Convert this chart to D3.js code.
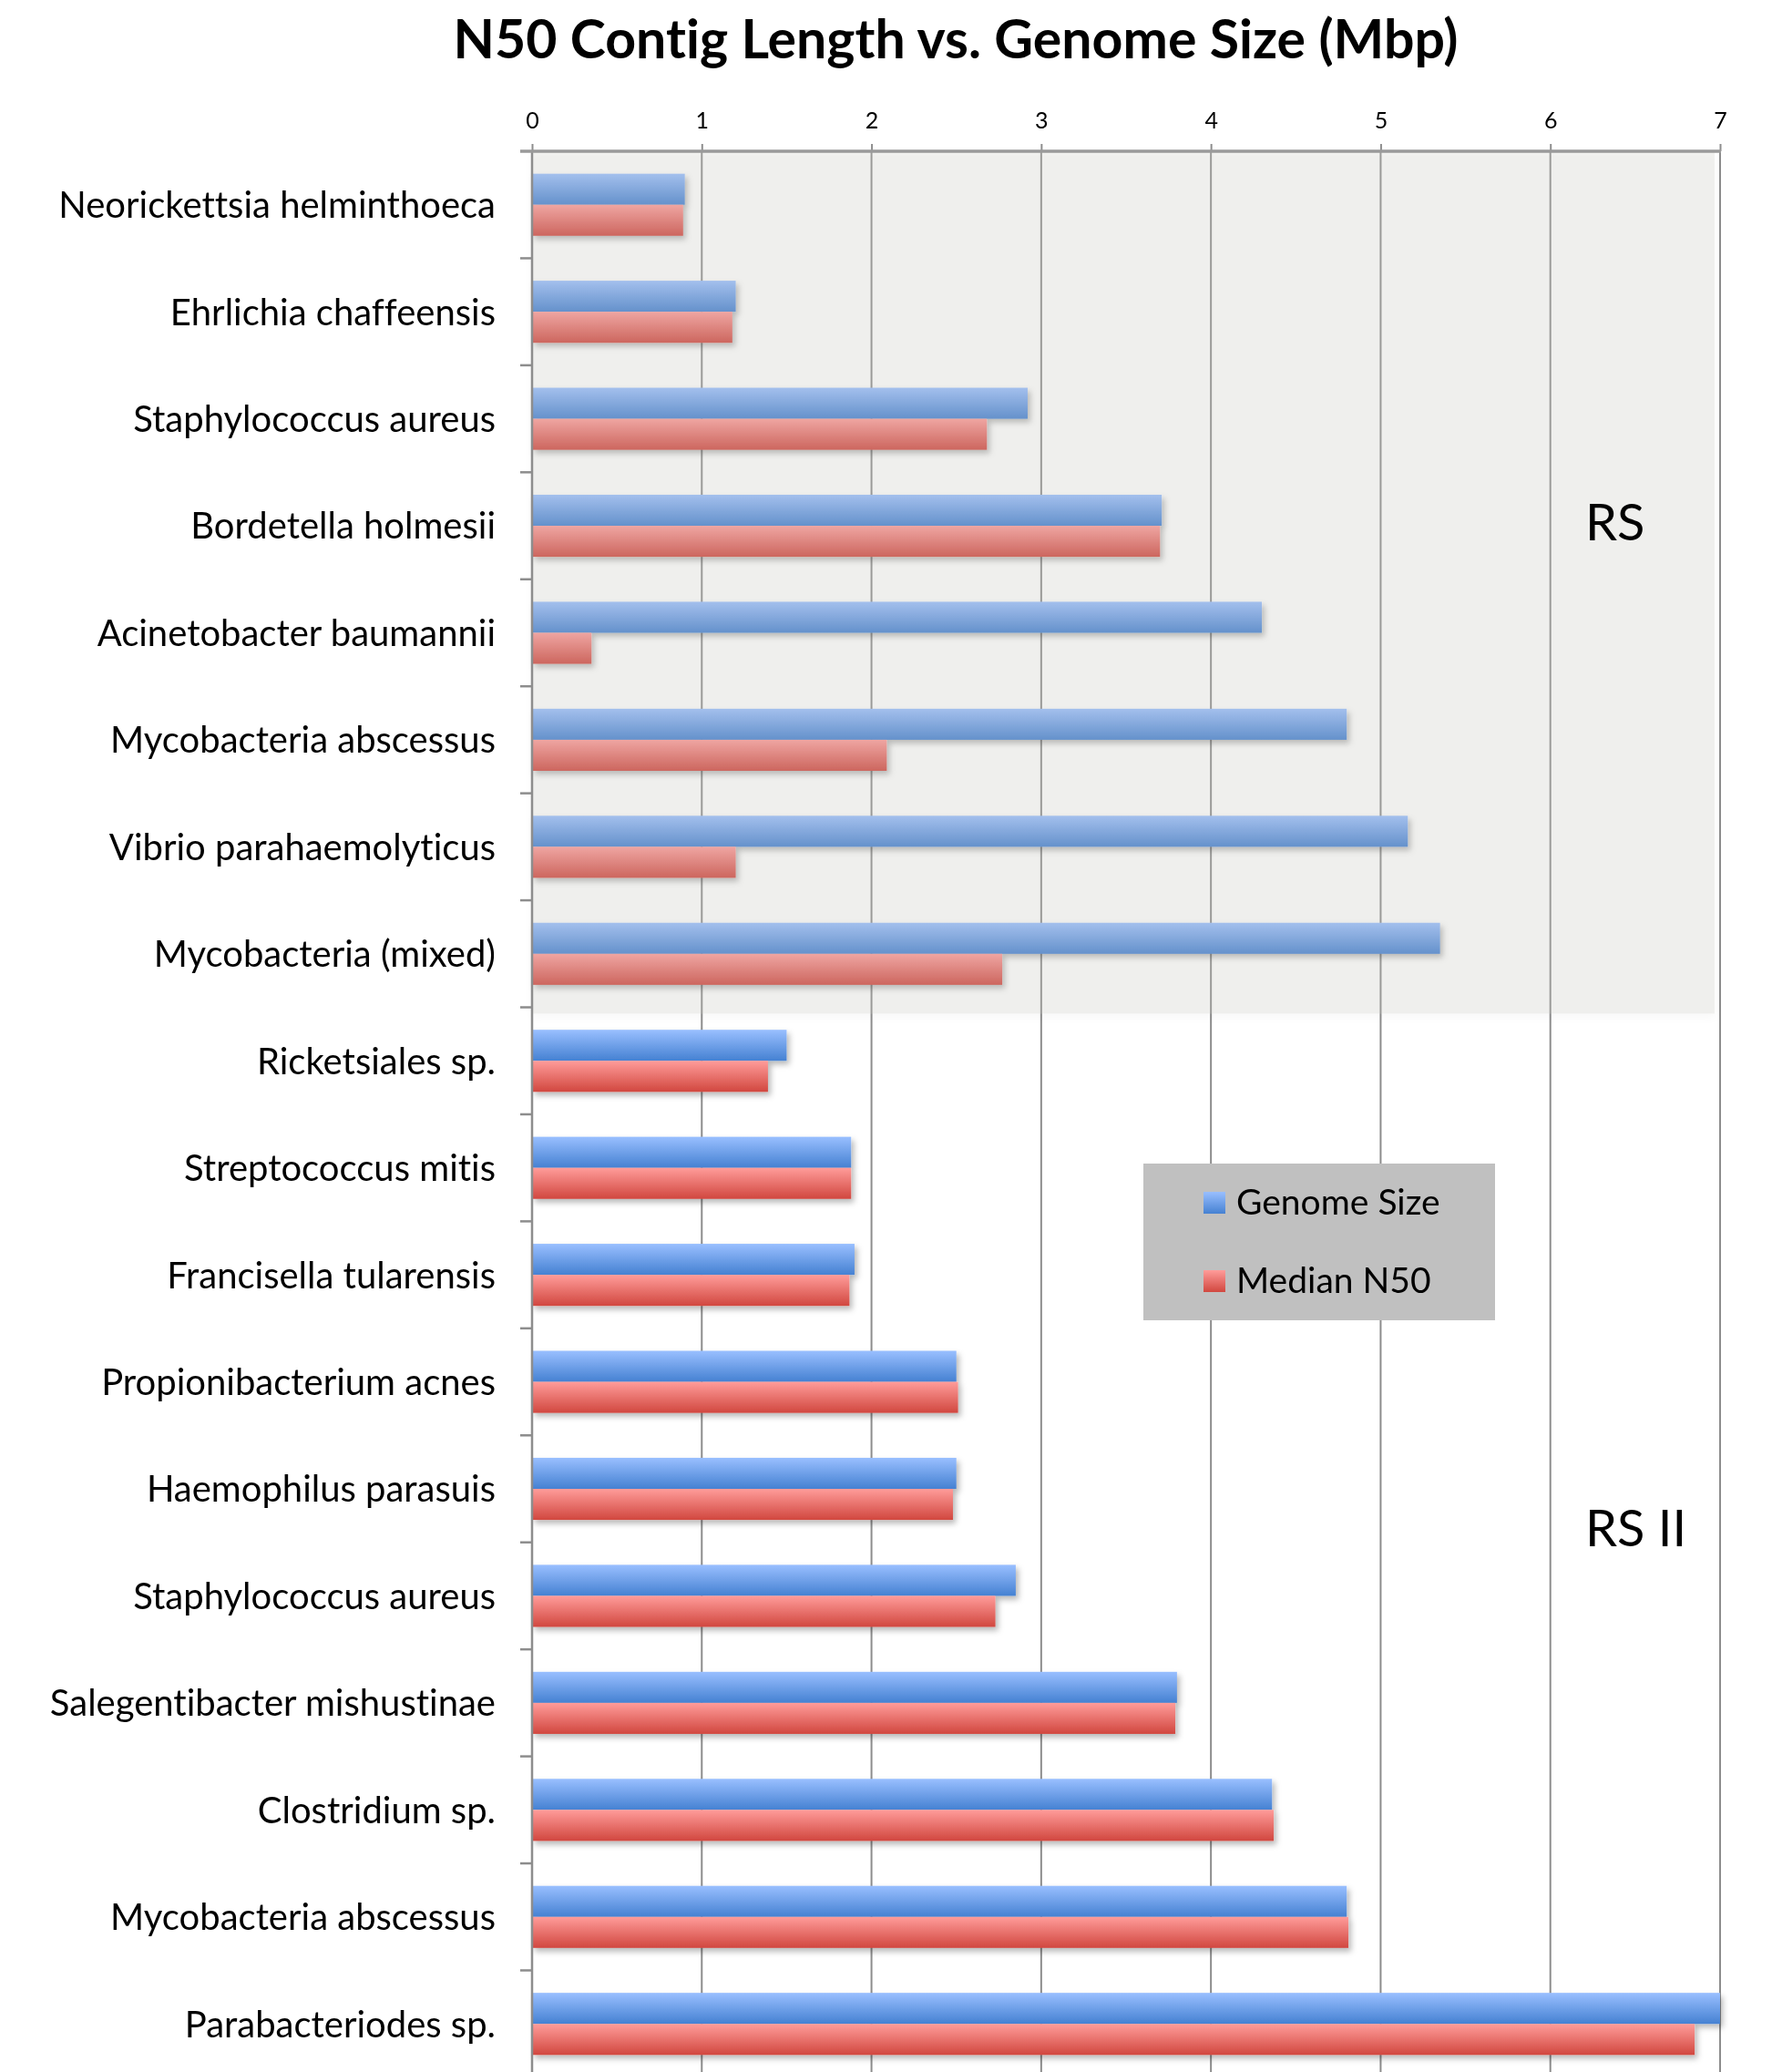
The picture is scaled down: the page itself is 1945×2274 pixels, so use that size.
<!DOCTYPE html>
<html>
<head>
<meta charset="utf-8">
<script src="https://cdn.jsdelivr.net/npm/d3@7"></script>
<style>
  html, body { margin: 0; padding: 0; background: #fff; }
  svg { display: block; }
  text { font-family: Lato, "Open Sans", sans-serif; fill: #000; font-variant-ligatures: none; }
</style>
</head>
<body>
<script>
// Organisms, top to bottom
const categories = [
  "Neorickettsia helminthoeca",
  "Ehrlichia chaffeensis",
  "Staphylococcus aureus",
  "Bordetella holmesii",
  "Acinetobacter baumannii",
  "Mycobacteria abscessus",
  "Vibrio parahaemolyticus",
  "Mycobacteria (mixed)",
  "Ricketsiales sp.",
  "Streptococcus mitis",
  "Francisella tularensis",
  "Propionibacterium acnes",
  "Haemophilus parasuis",
  "Staphylococcus aureus",
  "Salegentibacter mishustinae",
  "Clostridium sp.",
  "Mycobacteria abscessus",
  "Parabacteriodes sp."
];

// Mbp
const genomeSize = [0.90, 1.20, 2.92, 3.71, 4.30, 4.80, 5.16, 5.35, 1.50, 1.88, 1.90, 2.50, 2.50, 2.85, 3.80, 4.36, 4.80, 7.00];
const medianN50  = [0.89, 1.18, 2.68, 3.70, 0.35, 2.09, 1.20, 2.77, 1.39, 1.88, 1.87, 2.51, 2.48, 2.73, 3.79, 4.37, 4.81, 6.85];

const seriesNames = ["Genome Size", "Median N50"];
const xTicks = [0, 1, 2, 3, 4, 5, 6, 7];

// Instrument groups (first / last row index)
const groups = [
  { label: "RS",    first: 0, last: 7,  shaded: true },
  { label: "RS II", first: 8, last: 17, shaded: false }
];

const W = 1945, H = 2274;
const plotLeft = 584, plotRight = 1888, plotTop = 166;
const step = 117.44;
const plotBottom = plotTop + step * categories.length;

const svg = d3.select("body").append("svg")
  .attr("width", W).attr("height", H);

const defs = svg.append("defs");

function grad(id, top, bottom) {
  const g = defs.append("linearGradient").attr("id", id)
    .attr("x1", 0).attr("y1", 0).attr("x2", 0).attr("y2", 1);
  g.append("stop").attr("offset", "0%").attr("stop-color", top);
  g.append("stop").attr("offset", "100%").attr("stop-color", bottom);
}
grad("gBlue", "#99bfff", "#4581d2");
grad("gRed", "#ff9c9a", "#d1473f");
const fills = ["url(#gBlue)", "url(#gRed)"];

const shadow = defs.append("filter").attr("id", "barShadow")
  .attr("x", "-5%").attr("y", "-30%").attr("width", "115%").attr("height", "180%");
shadow.append("feDropShadow")
  .attr("dx", 3).attr("dy", 4).attr("stdDeviation", 3)
  .attr("flood-color", "#000").attr("flood-opacity", 0.28);

const panelShadow = defs.append("filter").attr("id", "panelShadow")
  .attr("x", "-5%").attr("y", "-5%").attr("width", "110%").attr("height", "110%");
panelShadow.append("feDropShadow")
  .attr("dx", 0).attr("dy", 4).attr("stdDeviation", 5)
  .attr("flood-color", "#000").attr("flood-opacity", 0.12);

// Scales
const x = d3.scaleLinear().domain([0, 7]).range([plotLeft, plotRight]);
const y = d3.scaleBand().domain(d3.range(categories.length))
  .range([plotTop, plotBottom]).paddingInner(0.42).paddingOuter(0.21);
const ySub = d3.scaleBand().domain(seriesNames).range([0, y.bandwidth()]);

// Title
svg.append("text")
  .attr("x", 1049).attr("y", 64)
  .attr("text-anchor", "middle")
  .style("font-size", "59px").style("font-weight", "bold")
  .text("N50 Contig Length vs. Genome Size (Mbp)");

// Vertical gridlines
svg.append("g").selectAll("line")
  .data(xTicks.filter(t => t > 0))
  .join("line")
  .attr("x1", d => x(d)).attr("x2", d => x(d))
  .attr("y1", plotTop).attr("y2", plotBottom)
  .attr("stroke", "#8d8d8d").attr("stroke-width", 2);

// Bars
const rows = categories.map((c, i) => ({ i, values: [genomeSize[i], medianN50[i]] }));
const barG = svg.append("g").attr("filter", "url(#barShadow)");
barG.selectAll("g.row")
  .data(rows)
  .join("g").attr("class", "row")
  .attr("transform", d => `translate(0,${y(d.i)})`)
  .selectAll("rect")
  .data(d => d.values.map((v, k) => ({ v, k })))
  .join("rect")
  .attr("x", x(0))
  .attr("y", d => ySub(seriesNames[d.k]))
  .attr("width", d => x(d.v) - x(0))
  .attr("height", ySub.bandwidth())
  .attr("fill", d => fills[d.k]);

// Shaded panel for the first instrument group
groups.filter(g => g.shaded).forEach(g => {
  const y0 = plotTop + step * g.first;
  const y1 = plotTop + step * (g.last + 1);
  svg.append("rect")
    .attr("x", plotLeft).attr("y", y0)
    .attr("width", x(7) - plotLeft - 6).attr("height", y1 - y0 + 7)
    .attr("fill", "#c9c9c2").attr("fill-opacity", 0.24)
    .attr("filter", "url(#panelShadow)");
});

// Left axis line and category ticks
svg.append("line")
  .attr("x1", plotLeft).attr("x2", plotLeft)
  .attr("y1", plotTop).attr("y2", plotBottom)
  .attr("stroke", "#8d8d8d").attr("stroke-width", 2.5);
svg.append("g").selectAll("line")
  .data(d3.range(1, categories.length))
  .join("line")
  .attr("x1", plotLeft - 13).attr("x2", plotLeft)
  .attr("y1", d => plotTop + d * y.step()).attr("y2", d => plotTop + d * y.step())
  .attr("stroke", "#8d8d8d").attr("stroke-width", 2.5);

// Category labels
svg.append("g").selectAll("text")
  .data(rows)
  .join("text")
  .attr("x", 544)
  .attr("y", d => y(d.i) + y.bandwidth() / 2)
  .attr("dy", "0.36em")
  .attr("text-anchor", "end")
  .style("font-size", "40px")
  .text(d => categories[d.i]);

// Top value axis
const xAxis = d3.axisTop(x).tickValues(xTicks).tickSize(8).tickPadding(17)
  .tickFormat(d3.format("d"));
const axG = svg.append("g").attr("transform", `translate(0,${plotTop})`).call(xAxis);
axG.select(".domain").remove();
axG.selectAll(".tick line").attr("stroke", "#8d8d8d").attr("stroke-width", 2);
axG.selectAll(".tick text")
  .style("font-family", "Lato, sans-serif").style("font-size", "25px").attr("fill", "#000");
svg.append("line")
  .attr("x1", plotLeft - 13).attr("x2", plotRight + 1)
  .attr("y1", plotTop).attr("y2", plotTop)
  .attr("stroke", "#9a9a9a").attr("stroke-width", 3.5);

// Group labels
const groupLabelY = [593, 1697];
groups.forEach((g, k) => {
  svg.append("text")
    .attr("x", 1740).attr("y", groupLabelY[k])
    .style("font-size", "56px")
    .text(g.label);
});

// Legend
const lg = svg.append("g").attr("transform", "translate(1255,1277)");
lg.append("rect").attr("width", 386).attr("height", 172).attr("fill", "#c0c0c0");
seriesNames.forEach((name, k) => {
  const row = lg.append("g").attr("transform", `translate(66,${31 + k * 86})`);
  row.append("rect").attr("width", 24).attr("height", 24).attr("fill", fills[k]);
  row.append("text").attr("x", 36).attr("y", 25)
    .style("font-size", "39px").text(name);
});
</script>
</body>
</html>
